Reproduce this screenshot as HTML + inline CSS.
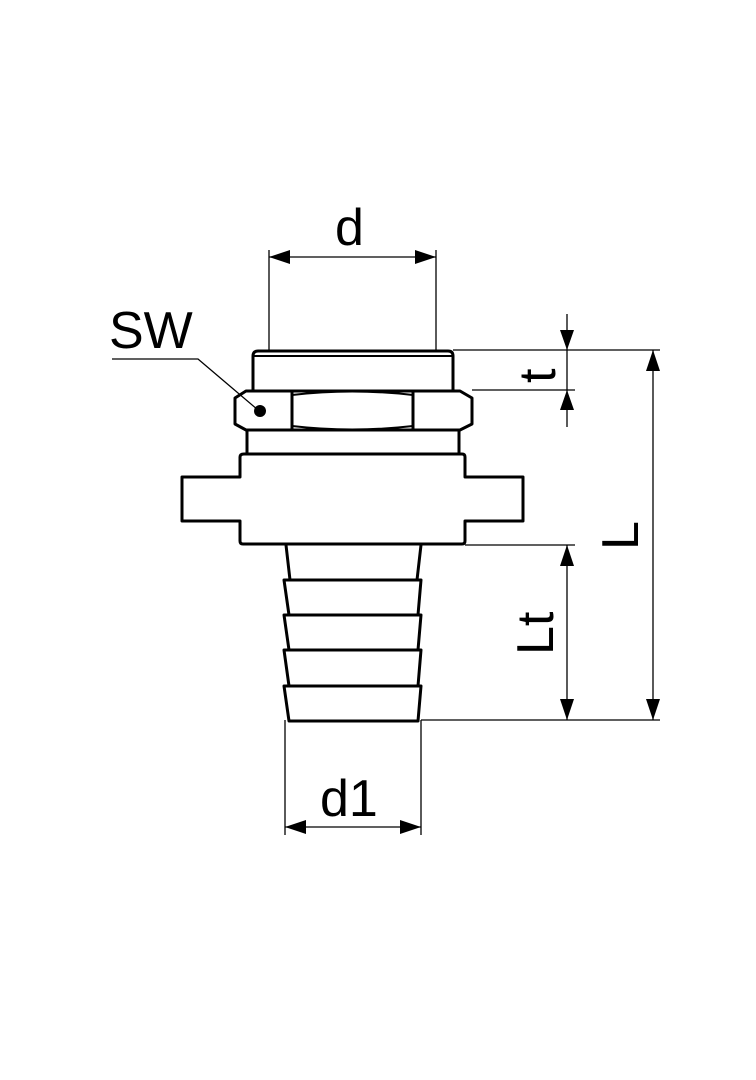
<!DOCTYPE html>
<html><head><style>body{margin:0;background:#fff}svg{display:block}</style></head><body>
<svg width="756" height="1080" viewBox="0 0 756 1080" xmlns="http://www.w3.org/2000/svg">
<rect width="756" height="1080" fill="#fff"/>
<g fill="none" stroke="#000" stroke-width="3" stroke-linejoin="round">
<path d="M253,391 L253,356 Q253,351 258,351 L448,351 Q453,351 453,356 L453,391"/>
<line x1="254" y1="356" x2="452" y2="356" stroke-width="2"/>
<path d="M246,391 L460,391 L472,398 L472,424 L460,430 L246,430 L235,424 L235,398 Z"/>
<line x1="292" y1="392" x2="292" y2="429"/>
<line x1="413" y1="392" x2="413" y2="429"/>
<path d="M292,395 Q352,388 413,395" stroke-width="2"/>
<path d="M292,426 Q352,433 413,426" stroke-width="2"/>
<line x1="247" y1="430" x2="247" y2="454"/>
<line x1="459" y1="430" x2="459" y2="454"/>
<path d="M244,454 L462,454 Q465,454 465,457 L465,477 L523,477 L523,521 L465,521 L465,541 Q465,544 462,544 L243,544 Q240,544 240,541 L240,521 L182,521 L182,477 L240,477 L240,457 Q240,454 244,454 Z"/>
<path d="M286,545 L290,580 M421,545 L417,580"/>
<path d="M284,580 L421,580 L418,615 L289,615 Z M284,615 L421,615 L418,650 L289,650 Z M284,650 L421,650 L418,686 L289,686 Z M284,686 L421,686 L418,721 L289,721 Z"/>
</g>
<circle cx="260" cy="411" r="6" fill="#000"/>
<g stroke="#000" stroke-width="1.3" fill="none">
<polyline points="112,359 198,359 258,410"/>
<line x1="269" y1="250" x2="269" y2="350"/>
<line x1="436" y1="250" x2="436" y2="350"/>
<line x1="269" y1="257" x2="436" y2="257"/>
<line x1="453" y1="350" x2="660" y2="350"/>
<line x1="472" y1="390" x2="575" y2="390"/>
<line x1="465" y1="545" x2="575" y2="545"/>
<line x1="421" y1="720" x2="660" y2="720"/>
<line x1="567" y1="314" x2="567" y2="427"/>
<line x1="653" y1="350" x2="653" y2="720"/>
<line x1="567" y1="545" x2="567" y2="720"/>
<line x1="285" y1="720" x2="285" y2="835"/>
<line x1="421" y1="720" x2="421" y2="835"/>
<line x1="285" y1="827" x2="421" y2="827"/>
</g>
<g fill="#000">
<polygon points="269,257 290,250 290,264"/>
<polygon points="436,257 415,250 415,264"/>
<polygon points="567,350 560,330 574,330"/>
<polygon points="567,390 560,410 574,410"/>
<polygon points="653,350 646,371 660,371"/>
<polygon points="653,720 646,699 660,699"/>
<polygon points="567,545 560,566 574,566"/>
<polygon points="567,720 560,699 574,699"/>
<polygon points="285,827 306,820 306,834"/>
<polygon points="421,827 400,820 400,834"/>
</g>
<g font-family="Liberation Sans, sans-serif" font-size="52" fill="#000">
<text x="335" y="245">d</text>
<text x="109" y="348">SW</text>
<text x="320" y="816">d1</text>
<text transform="translate(555,383) rotate(-90)">t</text>
<text transform="translate(638,550) rotate(-90)">L</text>
<text transform="translate(553,655) rotate(-90)">Lt</text>
</g>
</svg>
</body></html>
